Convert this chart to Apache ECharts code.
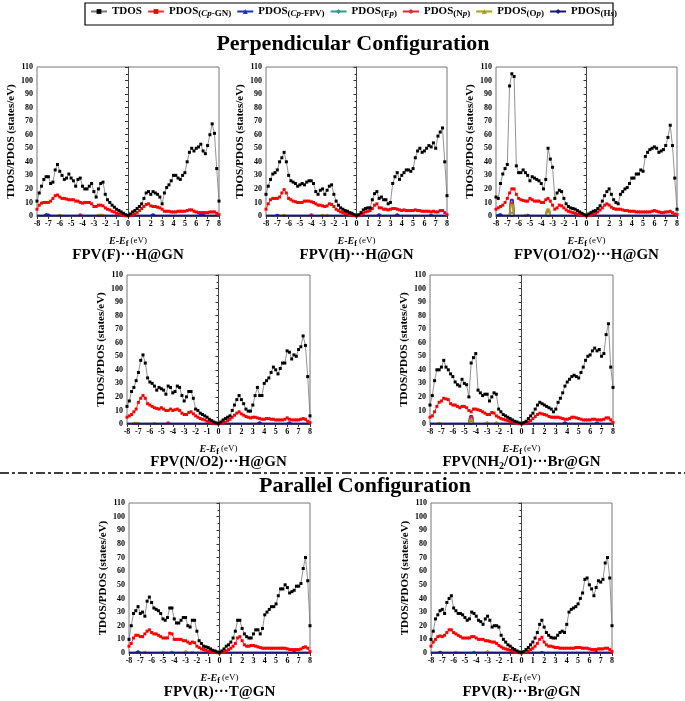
<!DOCTYPE html>
<html><head><meta charset="utf-8">
<script src="https://cdn.jsdelivr.net/npm/echarts@6/dist/echarts.min.js"></script>
<style>html,body{margin:0;padding:0;background:#fff}#c{width:685px;height:701px}</style>
</head><body><div id="c"></div>
<script>
const energy = [-8,-7.8,-7.6,-7.4,-7.2,-7,-6.8,-6.6,-6.4,-6.2,-6,-5.8,-5.6,-5.4,-5.2,-5,-4.8,-4.6,-4.4,-4.2,-4,-3.8,-3.6,-3.4,-3.2,-3,-2.8,-2.6,-2.4,-2.2,-2,-1.8,-1.6,-1.4,-1.2,-1,-0.8,-0.6,-0.4,-0.2,0,0.2,0.4,0.6,0.8,1,1.2,1.4,1.6,1.8,2,2.2,2.4,2.6,2.8,3,3.2,3.4,3.6,3.8,4,4.2,4.4,4.6,4.8,5,5.2,5.4,5.6,5.8,6,6.2,6.4,6.6,6.8,7,7.2,7.4,7.6,7.8,8];
const seriesNames = ['TDOS','PDOS(Cp-GN)','PDOS(Cp-FPV)','PDOS(Fp)','PDOS(Np)','PDOS(Op)','PDOS(Hs)'];
const panelTitles = ['{b|FPV(F)···H@GN}','{b|FPV(H)···H@GN}','{b|FPV(O1/O2)···H@GN}','{b|FPV(N/O2)···H@GN}','{b|FPV(NH}{s|2}{b|/O1)···Br@GN}','{b|FPV(R)···T@GN}','{b|FPV(R)···Br@GN}'];
const sectionTitles = ['Perpendicular Configuration','Parallel Configuration'];

const tdos1 = [11,17,22,27,29,29,24,25,34,38, 33,30,27,28,31,28,26,22,27,28, 22,20,20,22,24,18,14,20,24,25, 16,12,10,8,6.5,5,4,3,2,1, 0.3,1.5,3,4,5.5,7,9,13,17,18, 16,18,17,16,14,9,17,21,23,26, 30,30,28,27,30,32,40,47,50,48, 50,51,53,48,46,52,60,68,61,35, 11];
const cpgn1 = [5,8,9.5,10,10,10,11,13,15,15.5, 14,13,13,12.5,12,12,12,11,11,10, 9.5,10,10,10,9,7,7,8,8,7.5, 6,5,4.5,3.5,3,2,1.5,1,0.5,0.2, 0.1,0.3,0.8,1.5,2.5,4,5.5,7,8.5,9, 7.5,7,7,6.5,6,5,3.5,3.5,3.5,3, 3,3,3.5,3.5,3.5,3.5,4,4.5,4.5,3.5, 3,2.5,2.5,2.5,2.5,2.5,3,3,3,2, 1];
const tdos2 = [16,22,27,31,32,34,40,43,47,40, 30,26,25,24,22,23,24,23,25,26, 26,24,18,16,19,20,16,19,22,23, 16,11,8,6,5,4,3.5,2.5,2,1, 0.3,1,2.5,4.5,5.5,6,6,12,16.5,18, 13,14,12,12,9,10,24,29,32,27, 30,32,34,34,33,35,43,48,50,47, 48,50,52,51,54,50,59,62,65,40, 15];
const cpgn2 = [5,9,12,13,13,13,14,17,19.5,17, 13,12,11,10.5,10,10,10,11,11,11, 10.5,10,9,8,8,7.5,7,7.5,9,8.5, 7,5,4,3,2.5,2,1.5,1,0.5,0.3, 0.1,0.3,1,2,3,3.5,4,5.5,8,9, 6,6,5,5,4.5,5,5.5,5.5,5,4.5, 4,4.5,4,4,4,4,4.5,4,4,3.5, 3.5,3.5,3.5,3,3.5,3,3,4,4,2.5, 1];
const tdos3 = [14,13,24,31,35,38,96,105,103,37, 32,32,34,32,30,26,29,28,27,26, 24,20,27,50,42,36,13,17,19,18, 13,9,7,6,5.5,5,4,3,2,1, 0.3,1.5,2.5,3.5,4,5.5,7.5,11,15,18, 20,16,12,10,9,16,18,20,21,24, 28,28,31,31,34,33,44,47,49,50, 51,50,47,48,49,52,58,67,52,28, 5];
const cpgn3 = [5,6,7,8,10,13,17,20,20,16, 13,12,11.5,11,11,13,12,11,11,11, 10,10,12,13,11,8,5,6,8,7.5, 6,4.5,3.5,3,2.5,2,1.5,1,0.5,0.3, 0.1,0.3,0.8,1.5,2,3,4.5,6,8,9, 8,6.5,5.5,5,5,5,4.5,4,4,3.5, 3.5,3.5,3,3,3,3,3,3,3,3.5, 4,3.5,3,2.5,2.5,3,3,3.5,2.5,1.5, 1];
const tdos4 = [13,17,24,27,32,38,47,51,45,34, 31,30,28,25,27,26,25,22,28,27, 23,24,28,27,21,17,20,24,24,19, 11,10,8,7,6,5,3.5,2.5,1.5,0.8, 0.3,1.5,3,4,5,6,10,14,18,21, 18,15,11,9.5,9.5,14,21,27,21,21, 30,32,34,38,42,40,37,41,45,45, 54,53,48,51,50,55,57,65,58,35, 6];
const cpgn4 = [5,6,7,9,11,16,19,21,19,15, 14,13,12,11.5,11,12,11,10,10,11, 10,10.5,11,10,8,7,7,8.5,9,7.5, 6,5,4,3.5,3,2,1.5,1,0.5,0.2, 0.1,0.3,1,1.5,2.5,3.5,5,6.5,8,9, 7.5,6.5,5.5,5,4.5,5,5,4.5,4,3.5, 3.5,4,4,3.5,3.5,3,3,3,3,3.5, 4.5,3.5,3,3,3,3,3.5,4,3.5,2, 1];
const tdos5 = [14,21,32,40,40,42,47,42,40,37, 35,31,29,28,33,30,29,20,45,49, 52,25,23,21,22,22,17,20,23,22, 11,9,7,6,5,4,3,2,1.5,0.8, 0.3,1,2,4,6,8,11,14,16,15, 14,13,12,11,9,11,16,19,23,28, 31,33,35,36,35,34,38,42,47,50, 51,54,56,54,55,50,52,66,74,42, 27];
const cpgn5 = [5,6,9,13,16,17,19,18.5,18,15, 14,14,13,12,13,13,12,10,9,11, 11,10.5,10,9,8,7,7,8.5,8,6, 5,4,3.5,3,2.5,2,1.5,1,0.5,0.2, 0.1,0.3,0.8,1.5,2.5,4,5.5,7,8,7.5, 7,6.5,5.5,5,5,5,5,4.5,4,3.5, 3.5,4,5,5,4.5,4,3.5,3,3,3, 3,3.5,3.5,3,3,3,3.5,4.5,4.5,3, 1];
const tdos6 = [10,20,29,31,34,29,30,27,38,41, 37,33,32,31,29,25,24,26,33,33, 25,22,22,24,26,26,20,19,24,24, 16,9,7,5,4.5,4,3,2,1.5,0.8, 0.3,1.5,3,5,6,8,11,16,24,24, 18,14,12,11,11,14,17,17,14,18, 28,30,32,34,34,36,42,47,47,50, 48,44,45,46,49,49,51,62,70,53, 20];
const cpgn6 = [5,7,11,13,13,12,12,14,16,17, 15,14,14,13,12,11,11,11,14.5,14, 10,10,10,10,9,9,8,7,8,7.5, 5,4,3,2.5,2,1.5,1,0.8,0.5,0.2, 0.1,0.3,0.8,1.5,2.5,3.5,5,7,11,12, 9,6,5,5,5.5,5.5,5,4.5,4,3.5, 3.5,3.5,3.5,3.5,3.5,3.5,3.5,3.5,3.5,3.5, 3,2.5,2.5,2.5,2.5,2.5,3,4,4.5,3.5, 1];
const tdos7 = [10,16,25,28,31,32,29,37,40,42, 33,31,29,29,28,26,24,25,30,29, 27,24,23,21,25,27,24,19,20,20, 19,13,10,8,6,5,3.5,2.5,1.5,0.8, 0.3,1,2.5,4,6,8,11,15,21,24, 19,15,13,11.5,11,11,13,15,16,15, 21,30,32,33,34,36,40,44,54,55, 50,47,42,48,53,52,54,66,70,55, 20];
const cpgn7 = [5,8,10,12,12.5,12,13,15,17,17, 15,14,13,12,11,11,11,11,12,12, 11,10,10,10,9,9,8.5,8,8,7, 5.5,4.5,3.5,3,2.5,2,1.5,1,0.5,0.2, 0.1,0.3,0.8,1.5,2.5,3.5,5,7,10,11.5, 8,6,5,5,4.5,4,4,3.5,3.5,3.5, 3.5,3.5,3.5,3.5,4,4,4,3.5,3.5,3.5, 3,2.5,2.5,2.5,3,3,3,3.5,3.5,2.5, 1];

const cpfpv1 = [[-8,0.3],[-7.4,0.4],[-7.2,1.5],[-7,1.2],[-6.8,0.3],[2,0.3],[2.2,1.5],[2.4,0.3],[6.2,0.3],[6.4,1.5],[6.6,1.2],[6.8,0.3],[8,0.3]];
const fp1 = [[-8,0],[-6.2,0],[-6,0.8],[-5.8,0],[8,0]];
const np1 = [[-8,0],[-4.4,0],[-4.2,1.5],[-4,0],[8,0]];
const op1 = [[-8,0],[-6.2,0],[-6,1],[-5.8,0],[-2.8,0],[-2.6,1],[-2.2,1],[-2,0],[8,0]];
const hs1 = [[-8,0.2],[8,0.2]];
const cpfpv2 = [[-8,0.3],[-7.2,0.3],[-7,1],[-6.8,0.3],[1.8,0.3],[2,1.5],[2.2,0.3],[3.4,0.3],[3.6,1.5],[3.8,0.3],[6.4,0.3],[6.6,1],[6.8,0.3],[8,0.3]];
const fp2 = [[-8,0],[-6.6,0],[-6.4,0.8],[-6.2,0],[8,0]];
const np2 = [[-8,0],[-4.2,0],[-4,1.5],[-3.8,0],[8,0]];
const op2 = [[-8,0],[-6.6,0],[-6.4,1],[-6.2,0],[-3.2,0],[-3,1],[-2.8,0],[-2.6,1],[-2.4,0],[8,0]];
const hs2 = [[-8,0.2],[8,0.2]];
const cpfpv3 = [[-8,0.3],[-7.6,1.5],[-7.4,0.3],[-6.8,0.3],[-6.7,12],[-6.5,12],[-6.4,0.3],[-5.4,0.3],[-5.2,1],[-5,0.3],[8,0.3]];
const fp3 = [[-8,0],[-6.8,0],[-6.7,2.5],[-6.5,2.5],[-6.4,0],[-3.6,0],[-3.5,3.5],[-3.3,3.5],[-3.2,0],[8,0]];
const np3 = [[-8,0],[-6.8,0],[-6.7,9.5],[-6.5,9.5],[-6.4,0],[-3.6,0],[-3.5,4.5],[-3.3,4.5],[-3.2,0],[8,0]];
const op3 = [[-8,0],[-6.8,0],[-6.7,8],[-6.5,8],[-6.4,0],[-5.6,0],[-5.4,1],[-5.2,0],[-3.6,0],[-3.5,5],[-3.3,5],[-3.2,0],[8,0]];
const hs3 = [[-8,0.2],[8,0.2]];
const cpfpv4 = [[-8,0.3],[3.4,0.3],[3.6,1.5],[3.8,0.3],[6,0.3],[6.2,1.5],[6.4,0.3],[8,0.3]];
const fp4 = [[-8,0],[8,0]];
const np4 = [[-8,0],[-4.6,0],[-4.4,1.5],[-4.2,0],[8,0]];
const op4 = [[-8,0],[-7.6,0],[-7.4,1],[-7,1],[-6.8,0],[-5.8,0],[-5.6,0.8],[-5.4,0],[8,0]];
const hs4 = [[-8,0.2],[8,0.2]];
const cpfpv5 = [[-8,0.3],[-4.6,0.3],[-4.5,6],[-4.3,6],[-4.2,0.3],[3.6,0.3],[3.8,1.5],[4,0.3],[6.4,0.3],[6.6,1.2],[6.8,0.3],[8,0.3]];
const fp5 = [[-8,0],[-4.6,0],[-4.5,2],[-4.3,2],[-4.2,0],[8,0]];
const np5 = [[-8,0],[-4.6,0],[-4.5,5],[-4.3,5],[-4.2,0],[8,0]];
const op5 = [[-8,0],[-7.4,0],[-7.2,1],[-7,0],[-4.6,0],[-4.5,3],[-4.3,3],[-4.2,0],[-3.2,0],[-3,1.5],[-2.8,0],[-2.4,0],[-2.2,1.5],[-2,0],[8,0]];
const hs5 = [[-8,0.2],[8,0.2]];
const cpfpv6 = [[-8,0.3],[-7.4,0.3],[-7.2,1.5],[-7,0.3],[6.4,0.3],[6.6,1],[6.8,0.3],[8,0.3]];
const fp6 = [[-8,0],[8,0]];
const np6 = [[-8,0],[-4.4,0],[-4.2,1],[-4,0],[8,0]];
const op6 = [[-8,0],[-6.8,0],[-6.6,1],[-6.4,0],[-5.2,0],[-5,1],[-4.8,0],[-3.2,0],[-3,1.5],[-2.8,0],[-2.6,0],[-2.4,1],[-2.2,0],[8,0]];
const hs6 = [[-8,0.2],[8,0.2]];
const cpfpv7 = [[-8,0.3],[-7.4,0.3],[-7.2,1],[-7,0.3],[1.6,0.3],[1.8,0.8],[2,0.3],[6.4,0.3],[6.6,0.8],[6.8,0.3],[8,0.3]];
const fp7 = [[-8,0],[8,0]];
const np7 = [[-8,0],[-4.4,0],[-4.2,1],[-4,0],[8,0]];
const op7 = [[-8,0],[-6,0],[-5.8,1],[-5.6,0],[-3.2,0],[-3,1.5],[-2.8,0],[8,0]];
const hs7 = [[-8,0.2],[8,0.2]];

const tdosAll = [tdos1,tdos2,tdos3,tdos4,tdos5,tdos6,tdos7];
const cpgnAll = [cpgn1,cpgn2,cpgn3,cpgn4,cpgn5,cpgn6,cpgn7];
const smallAll = [
  [cpfpv1,fp1,np1,op1,hs1],[cpfpv2,fp2,np2,op2,hs2],[cpfpv3,fp3,np3,op3,hs3],
  [cpfpv4,fp4,np4,op4,hs4],[cpfpv5,fp5,np5,op5,hs5],[cpfpv6,fp6,np6,op6,hs6],[cpfpv7,fp7,np7,op7,hs7]];

// layout (pixels): left, top, width, height
const boxes = [[37,67,182,149],[266,67,181,149],[496,67,181,149],[127,275,183,149],[430,275,183,149],[129,503,181,150],[431,503,181,150]];
const captionY = [255,255,255,462,462,692,692];
const FONT = '"Liberation Serif","Times New Roman",serif';
const colors = ['#000000','#ff0000','#1f2fb8','#2f9a8c','#e8232a','#a89f1e','#17177a'];
const symbols = ['rect','rect','triangle','diamond','diamond','triangle','diamond'];

const grids=[], xAxes=[], yAxes=[], series=[];
boxes.forEach((b,i)=>{
  grids.push({left:b[0], top:b[1], width:b[2], height:b[3], show:true, borderColor:'#777', borderWidth:1, backgroundColor:'transparent'});
  xAxes.push({type:'value', gridIndex:i, min:-8, max:8, interval:1,
    axisLine:{onZero:false, lineStyle:{color:'#333', width:1}},
    axisTick:{length:3, lineStyle:{color:'#333'}},
    axisLabel:{fontSize:8, fontWeight:'bold', fontFamily:FONT, color:'#000', margin:4},
    splitLine:{show:false},
    name:'{bi|E}{b|-}{bi|E}{sub|f}{n| (eV)}', nameLocation:'middle', nameGap:18,
    nameTextStyle:{rich:{
      bi:{fontSize:10, fontStyle:'italic', fontWeight:'bold', fontFamily:FONT, color:'#000', verticalAlign:'middle', lineHeight:14},
      b:{fontSize:10, fontWeight:'bold', fontFamily:FONT, color:'#000', verticalAlign:'middle', lineHeight:14},
      sub:{fontSize:8, fontWeight:'bold', fontFamily:FONT, color:'#000', verticalAlign:'bottom', lineHeight:10},
      n:{fontSize:9, fontFamily:FONT, color:'#000', verticalAlign:'middle', lineHeight:14}}}
  });
  yAxes.push({type:'value', gridIndex:i, min:0, max:110, interval:10,
    axisLine:{show:true, lineStyle:{color:'#333', width:1}},
    axisTick:{show:true, length:3, lineStyle:{color:'#333'}},
    minorTick:{show:true, splitNumber:2, length:2, lineStyle:{color:'#333'}},
    axisLabel:{fontSize:8, fontWeight:'bold', fontFamily:FONT, color:'#000', margin:4},
    splitLine:{show:false},
    name:'TDOS/PDOS (states/eV)', nameLocation:'middle', nameGap:15,
    nameTextStyle:{fontSize:11, fontWeight:'bold', fontFamily:FONT, color:'#000'}
  });
  smallAll[i].forEach((d,k)=>{
    const n = k+2;
    series.push({name:seriesNames[n], type:'line', xAxisIndex:i, yAxisIndex:i, data:d,
      showSymbol:false, symbol:symbols[n], symbolSize:4, z: n===6?4:3,
      itemStyle:{color:colors[n]}, lineStyle:{color:colors[n], width: n===6?2:1.8}, animation:false});
  });
  series.push({name:seriesNames[1], type:'line', xAxisIndex:i, yAxisIndex:i,
    data: energy.map((e,j)=>[e, cpgnAll[i][j]]), symbol:'rect', symbolSize:3, z:5,
    itemStyle:{color:'#ff0000'}, lineStyle:{color:'#ff3030', width:1}, animation:false});
  series.push({name:seriesNames[0], type:'line', xAxisIndex:i, yAxisIndex:i,
    data: energy.map((e,j)=>[e, tdosAll[i][j]]), symbol:'rect', symbolSize:3, z:6,
    itemStyle:{color:'#000'}, lineStyle:{color:'#777', width:0.8}, animation:false,
    markLine:{silent:true, symbol:['none','none'], label:{show:false}, animation:false,
      lineStyle:{color:'#444', width:1, type:'solid'}, data:[{xAxis:0}]}});
});

const legendFmt = {
  'TDOS':'{b|TDOS}',
  'PDOS(Cp-GN)':'{b|PDOS}{s|(}{si|Cp}{s|-GN)}',
  'PDOS(Cp-FPV)':'{b|PDOS}{s|(}{si|Cp}{s|-FPV)}',
  'PDOS(Fp)':'{b|PDOS}{s|(F}{si|p}{s|)}',
  'PDOS(Np)':'{b|PDOS}{s|(N}{si|p}{s|)}',
  'PDOS(Op)':'{b|PDOS}{s|(O}{si|p}{s|)}',
  'PDOS(Hs)':'{b|PDOS}{s|(H}{si|s}{s|)}'
};

const graphic = [
  {type:'rect', shape:{x:85, y:3, width:528, height:22}, style:{fill:'#fff', stroke:'#000', lineWidth:1.2}, z:-1},
  {type:'text', style:{text:sectionTitles[0], x:353, y:44, textAlign:'center', textVerticalAlign:'middle', fontSize:22, fontWeight:'bold', fontFamily:FONT, fill:'#000'}},
  {type:'text', style:{text:sectionTitles[1], x:365, y:486, textAlign:'center', textVerticalAlign:'middle', fontSize:22, fontWeight:'bold', fontFamily:FONT, fill:'#000'}},
  {type:'line', shape:{x1:0, y1:473, x2:685, y2:473}, style:{stroke:'#000', lineWidth:1.6, lineDash:[9,3,3,3]}}
];
boxes.forEach((b,i)=>{
  graphic.push({type:'text', style:{text:panelTitles[i], x:b[0]+b[2]/2, y:captionY[i], textAlign:'center', textVerticalAlign:'middle',
    rich:{b:{fontSize:15, fontWeight:'bold', fontFamily:FONT, fill:'#000', verticalAlign:'middle', lineHeight:18},
          s:{fontSize:10, fontWeight:'bold', fontFamily:FONT, fill:'#000', verticalAlign:'bottom', lineHeight:12}}}});
});

const chart = echarts.init(document.getElementById('c'), null, {renderer:'canvas'});
chart.setOption({
  animation:false,
  backgroundColor:'#fff',
  grid:grids, xAxis:xAxes, yAxis:yAxes, series:series,
  legend:{data:seriesNames, left:90, top:6, itemGap:5, itemWidth:16, itemHeight:6, padding:0,
    formatter:(n)=>legendFmt[n],
    textStyle:{rich:{
      b:{fontSize:11, fontWeight:'bold', fontFamily:FONT, color:'#000', verticalAlign:'middle', lineHeight:14},
      s:{fontSize:9, fontWeight:'bold', fontFamily:FONT, color:'#000', verticalAlign:'bottom', lineHeight:10},
      si:{fontSize:9, fontWeight:'bold', fontStyle:'italic', fontFamily:FONT, color:'#000', verticalAlign:'bottom', lineHeight:10}}}},
  graphic:graphic
});
</script></body></html>
